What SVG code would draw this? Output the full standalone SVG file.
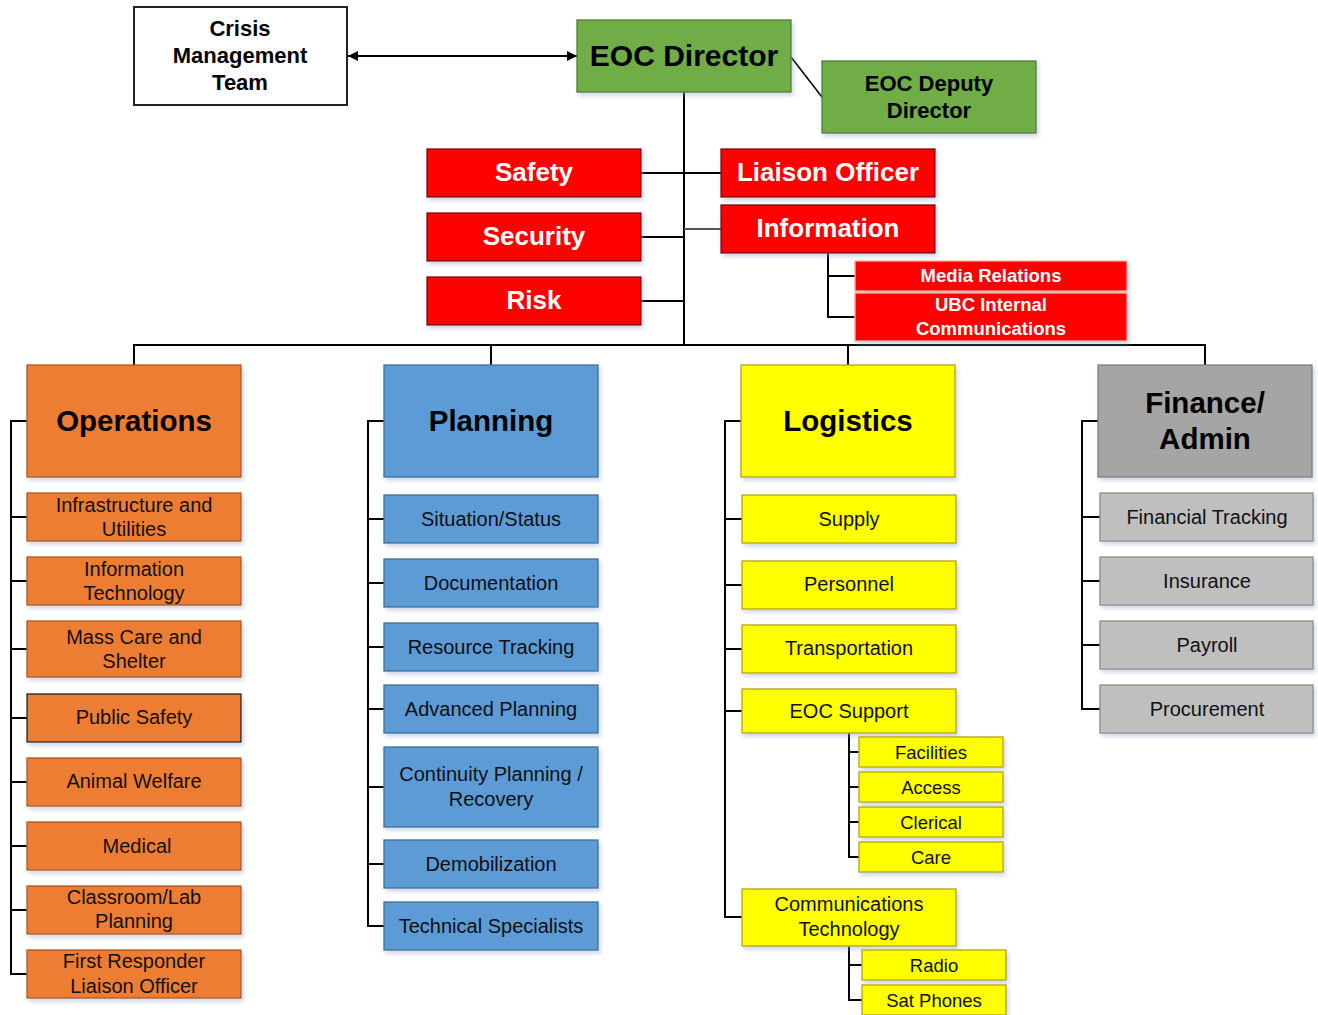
<svg xmlns="http://www.w3.org/2000/svg" width="1318" height="1015" viewBox="0 0 1318 1015">
<defs>
<filter id="sh" x="-10%" y="-10%" width="130%" height="140%">
<feDropShadow dx="2" dy="3" stdDeviation="2" flood-color="#8fa8c8" flood-opacity="0.45"/>
</filter>
<marker id="ah" viewBox="0 0 10 10" refX="10" refY="5" markerWidth="10" markerHeight="10" markerUnits="userSpaceOnUse" orient="auto-start-reverse">
<path d="M0 0 L10 5 L0 10 z" fill="#000"/>
</marker>
<style>
text{font-family:"Liberation Sans",Arial,sans-serif;text-anchor:middle}
.box{filter:url(#sh);stroke-width:1.3}
.white{fill:#fff;stroke:#222;stroke-width:2}
.green{fill:#70AD47;stroke:#507E32}
.red{fill:#FF0000;stroke:#7a0000}
.redl{fill:#FF0000;stroke:#f5b0a0}
.org{fill:#ED7D31;stroke:#AE5A21}
.blue{fill:#5B9BD5;stroke:#41719C}
.yel{fill:#FFFF00;stroke:#B8A400}
.gray{fill:#A5A5A5;stroke:#7F7F7F}
.lgray{fill:#BFBFBF;stroke:#8C8C8C}
.t-top{font-size:22px;font-weight:bold;fill:#000}
.t-dir{font-size:30px;font-weight:bold;fill:#000}
.t-red{font-size:26px;font-weight:bold;fill:#fff}
.t-redsm{font-size:18.5px;font-weight:bold;fill:#fff}
.t-hdr{font-size:29.5px;font-weight:bold;fill:#000}
.t-ch{font-size:20px;fill:#111}
.t-sub{font-size:18.5px;fill:#111}
.con{fill:none;stroke:#000;stroke-width:2}
</style>
</defs>

<g id="connectors" class="con">
<path d="M348 56 H577" marker-start="url(#ah)" marker-end="url(#ah)"/>
<path d="M791 57 L822 97" stroke-width="1.5"/>
<path d="M684 92 V345"/>
<path d="M641 173 H721"/>
<path d="M641 237 H684"/>
<path d="M684 229 H721" stroke="#555"/>
<path d="M641 301 H684"/>
<path d="M828 253 V317 H855 M828 276 H855"/>
<path d="M134 365 V345 H1205 V365 M491 345 V365 M848 345 V365"/>
<path d="M27 421 H11 V974 H27 M11 517 H27 M11 581 H27 M11 649 H27 M11 718 H27 M11 782 H27 M11 846 H27 M11 910 H27"/>
<path d="M384 421 H368 V926 H384 M368 519 H384 M368 583 H384 M368 647 H384 M368 709 H384 M368 787 H384 M368 864 H384"/>
<path d="M741 421 H725 V917 H742 M725 519 H742 M725 585 H742 M725 649 H742 M725 711 H742"/>
<path d="M849 733 V857 H859 M849 752 H859 M849 787 H859 M849 822 H859"/>
<path d="M849 946 V1000 H862 M849 965 H862"/>
<path d="M1098 421 H1082 V709 H1100 M1082 517 H1100 M1082 581 H1100 M1082 645 H1100"/>
</g>

<g id="crisis"><rect class="white" x="134" y="7" width="213" height="98"/>
<text class="t-top" x="240" y="36">Crisis</text><text class="t-top" x="240" y="63">Management</text><text class="t-top" x="240" y="90">Team</text></g>
<g id="eoc-director"><rect class="box green" x="577" y="20" width="214" height="72"/><text class="t-dir" x="684" y="66">EOC Director</text></g>
<g id="eoc-deputy"><rect class="box green" x="822" y="61" width="214" height="72"/>
<text class="t-top" x="929" y="91">EOC Deputy</text><text class="t-top" x="929" y="118">Director</text></g>

<g id="safety"><rect class="box red" x="427" y="149" width="214" height="48"/><text class="t-red" x="534" y="181">Safety</text></g>
<g id="security"><rect class="box red" x="427" y="213" width="214" height="48"/><text class="t-red" x="534" y="245">Security</text></g>
<g id="risk"><rect class="box red" x="427" y="277" width="214" height="48"/><text class="t-red" x="534" y="309">Risk</text></g>
<g id="liaison"><rect class="box red" x="721" y="149" width="214" height="48"/><text class="t-red" x="828" y="181">Liaison Officer</text></g>
<g id="information"><rect class="box red" x="721" y="205" width="214" height="48"/><text class="t-red" x="828" y="237">Information</text></g>
<g id="media"><rect class="box redl" x="855" y="261" width="272" height="30"/><text class="t-redsm" x="991" y="282">Media Relations</text></g>
<g id="ubc"><rect class="box redl" x="855" y="293" width="272" height="48"/>
<text class="t-redsm" x="991" y="311">UBC Internal</text><text class="t-redsm" x="991" y="335">Communications</text></g>

<g id="operations"><rect class="box org" x="27" y="365" width="214" height="112"/><text class="t-hdr" x="134" y="431">Operations</text></g>
<g id="ops-infra"><rect class="box org" x="27" y="493" width="214" height="48"/><text class="t-ch" x="134" y="512">Infrastructure and</text><text class="t-ch" x="134" y="536">Utilities</text></g>
<g id="ops-it"><rect class="box org" x="27" y="557" width="214" height="48"/><text class="t-ch" x="134" y="576">Information</text><text class="t-ch" x="134" y="600">Technology</text></g>
<g id="ops-mass"><rect class="box org" x="27" y="621" width="214" height="56"/><text class="t-ch" x="134" y="644">Mass Care and</text><text class="t-ch" x="134" y="668">Shelter</text></g>
<g id="ops-public"><rect class="box org" x="27" y="694" width="214" height="48" style="stroke:#222"/><text class="t-ch" x="134" y="724">Public Safety</text></g>
<g id="ops-animal"><rect class="box org" x="27" y="758" width="214" height="48"/><text class="t-ch" x="134" y="788">Animal Welfare</text></g>
<g id="ops-medical"><rect class="box org" x="27" y="822" width="214" height="48"/><text class="t-ch" x="137" y="853">Medical</text></g>
<g id="ops-class"><rect class="box org" x="27" y="886" width="214" height="48"/><text class="t-ch" x="134" y="904">Classroom/Lab</text><text class="t-ch" x="134" y="928">Planning</text></g>
<g id="ops-first"><rect class="box org" x="27" y="950" width="214" height="48"/><text class="t-ch" x="134" y="968">First Responder</text><text class="t-ch" x="134" y="993">Liaison Officer</text></g>

<g id="planning"><rect class="box blue" x="384" y="365" width="214" height="112"/><text class="t-hdr" x="491" y="431">Planning</text></g>
<g id="pl-situation"><rect class="box blue" x="384" y="495" width="214" height="48"/><text class="t-ch" x="491" y="526">Situation/Status</text></g>
<g id="pl-doc"><rect class="box blue" x="384" y="559" width="214" height="48"/><text class="t-ch" x="491" y="590">Documentation</text></g>
<g id="pl-resource"><rect class="box blue" x="384" y="623" width="214" height="48"/><text class="t-ch" x="491" y="654">Resource Tracking</text></g>
<g id="pl-advanced"><rect class="box blue" x="384" y="685" width="214" height="48"/><text class="t-ch" x="491" y="716">Advanced Planning</text></g>
<g id="pl-continuity"><rect class="box blue" x="384" y="747" width="214" height="80"/><text class="t-ch" x="491" y="781">Continuity Planning /</text><text class="t-ch" x="491" y="806">Recovery</text></g>
<g id="pl-demob"><rect class="box blue" x="384" y="840" width="214" height="48"/><text class="t-ch" x="491" y="871">Demobilization</text></g>
<g id="pl-tech"><rect class="box blue" x="384" y="902" width="214" height="48"/><text class="t-ch" x="491" y="933">Technical Specialists</text></g>

<g id="logistics"><rect class="box yel" x="741" y="365" width="214" height="112"/><text class="t-hdr" x="848" y="431">Logistics</text></g>
<g id="lg-supply"><rect class="box yel" x="742" y="495" width="214" height="48"/><text class="t-ch" x="849" y="526">Supply</text></g>
<g id="lg-personnel"><rect class="box yel" x="742" y="561" width="214" height="48"/><text class="t-ch" x="849" y="591">Personnel</text></g>
<g id="lg-transport"><rect class="box yel" x="742" y="625" width="214" height="48"/><text class="t-ch" x="849" y="655">Transportation</text></g>
<g id="lg-eoc"><rect class="box yel" x="742" y="689" width="214" height="44"/><text class="t-ch" x="849" y="718">EOC Support</text></g>
<g id="lg-facilities"><rect class="box yel" x="859" y="737" width="144" height="30"/><text class="t-sub" x="931" y="758.5">Facilities</text></g>
<g id="lg-access"><rect class="box yel" x="859" y="772" width="144" height="30"/><text class="t-sub" x="931" y="793.5">Access</text></g>
<g id="lg-clerical"><rect class="box yel" x="859" y="807" width="144" height="30"/><text class="t-sub" x="931" y="828.5">Clerical</text></g>
<g id="lg-care"><rect class="box yel" x="859" y="842" width="144" height="30"/><text class="t-sub" x="931" y="863.5">Care</text></g>
<g id="lg-comm"><rect class="box yel" x="742" y="889" width="214" height="57"/><text class="t-ch" x="849" y="911">Communications</text><text class="t-ch" x="849" y="936">Technology</text></g>
<g id="lg-radio"><rect class="box yel" x="862" y="950" width="144" height="30"/><text class="t-sub" x="934" y="971.5">Radio</text></g>
<g id="lg-sat"><rect class="box yel" x="862" y="985" width="144" height="30"/><text class="t-sub" x="934" y="1006.5">Sat Phones</text></g>

<g id="finance"><rect class="box gray" x="1098" y="365" width="214" height="112"/><text class="t-hdr" x="1205" y="413">Finance/</text><text class="t-hdr" x="1205" y="449">Admin</text></g>
<g id="fn-tracking"><rect class="box lgray" x="1100" y="493" width="213" height="48"/><text class="t-ch" x="1207" y="524">Financial Tracking</text></g>
<g id="fn-insurance"><rect class="box lgray" x="1100" y="557" width="213" height="48"/><text class="t-ch" x="1207" y="588">Insurance</text></g>
<g id="fn-payroll"><rect class="box lgray" x="1100" y="621" width="213" height="48"/><text class="t-ch" x="1207" y="652">Payroll</text></g>
<g id="fn-procurement"><rect class="box lgray" x="1100" y="685" width="213" height="48"/><text class="t-ch" x="1207" y="716">Procurement</text></g>
</svg>
